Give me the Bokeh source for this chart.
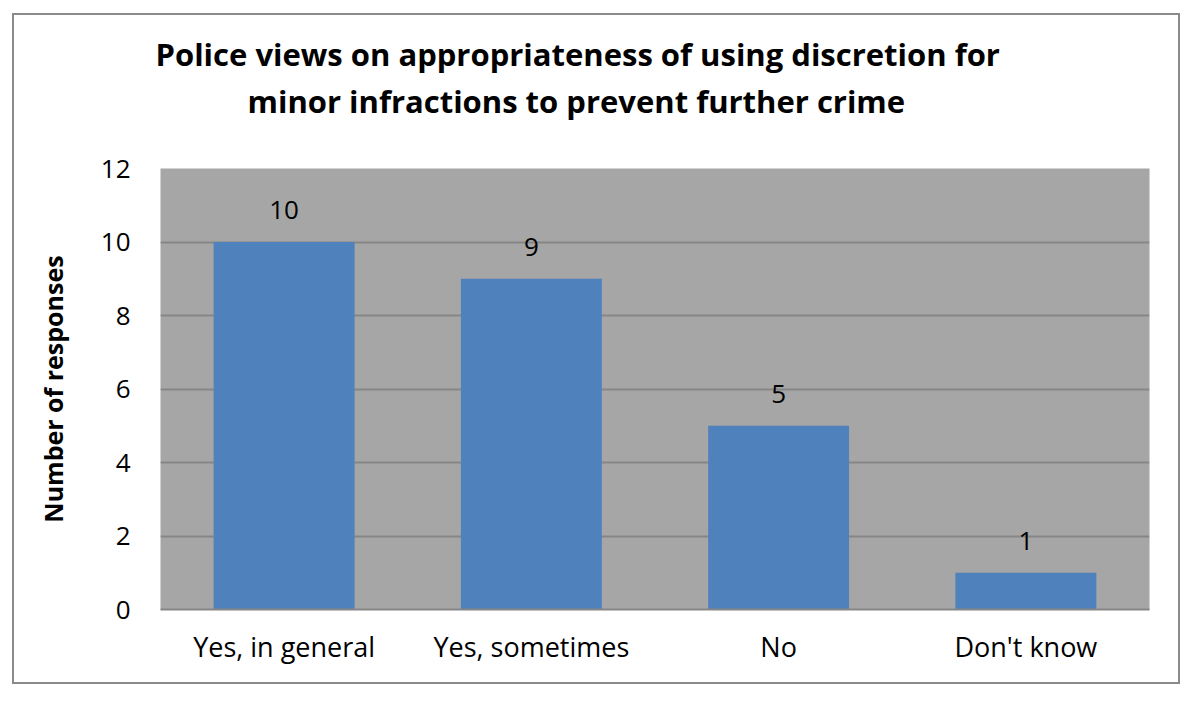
from bokeh.plotting import figure
from bokeh.models import ColumnDataSource, LabelSet, Title
from bokeh.core.properties import value
from bokeh.embed import file_html
from bokeh.resources import INLINE

categories = ["Yes, in general", "Yes, sometimes", "No", "Don't know"]
responses = [10, 9, 5, 1]
y_ticks = [0, 2, 4, 6, 8, 10, 12]
title_lines = ["Police views on appropriateness of using discretion for",
               "minor infractions to prevent further crime"]
y_label = "Number of responses"

FONT = "Open Sans"

src = ColumnDataSource(dict(cat=categories, val=responses,
                            lab=[str(v) for v in responses]))

p = figure(width=1168, height=671, x_range=categories, y_range=(0, 12),
           output_backend="svg", toolbar_location=None,
           min_border_left=146, min_border_right=33,
           min_border_top=153, min_border_bottom=77)
p.margin = (13, 0, 0, 12)
p.styles = {"border": "2px solid #8a8a8a", "box-sizing": "border-box"}

p.background_fill_color = "#A6A6A6"
p.border_fill_color = "white"
p.outline_line_color = None
p.x_range.range_padding = 0

p.vbar(x="cat", top="val", width=0.57, source=src,
       fill_color="#4F81BD", line_color=None)

p.add_layout(LabelSet(x="cat", y="val", text="lab", source=src,
                      y_offset=32, text_align="center", text_baseline="middle",
                      text_font=value(FONT), text_font_size=value("26px"),
                      text_color="black"))

# gridlines
p.xgrid.grid_line_color = None
p.ygrid.grid_line_color = "#868686"
p.ygrid.grid_line_width = 2
p.ygrid.ticker = y_ticks

# axes
p.yaxis.ticker = y_ticks
p.yaxis.axis_line_color = None
p.yaxis.major_tick_line_color = None
p.yaxis.minor_tick_line_color = None
p.yaxis.major_label_standoff = 24
p.yaxis.major_label_text_font = FONT
p.yaxis.major_label_text_font_size = "26px"
p.yaxis.major_label_text_color = "black"
p.yaxis.axis_label = y_label
p.yaxis.axis_label_text_font = FONT
p.yaxis.axis_label_text_font_size = "25px"
p.yaxis.axis_label_text_font_style = "bold"
p.yaxis.axis_label_text_color = "black"
p.yaxis.axis_label_standoff = 28

p.xaxis.axis_line_color = "#868686"
p.xaxis.axis_line_width = 2
p.xaxis.major_tick_line_color = None
p.xaxis.minor_tick_line_color = None
p.xaxis.major_label_standoff = 12
p.xaxis.major_label_text_font = FONT
p.xaxis.major_label_text_font_size = "27px"
p.xaxis.major_label_text_color = "black"

# title: two lines (second line added first: it sits nearest the frame)
p.add_layout(Title(text=title_lines[1], align="left", offset=87, standoff=94,
                   text_font=FONT, text_font_size="31px", text_font_style="bold",
                   text_color="black"), "above")
p.add_layout(Title(text=title_lines[0], align="left", offset=-5, standoff=-88,
                   text_font=FONT, text_font_size="31px", text_font_style="bold",
                   text_color="black"), "above")

open("out.html", "w").write(file_html(p, INLINE))
